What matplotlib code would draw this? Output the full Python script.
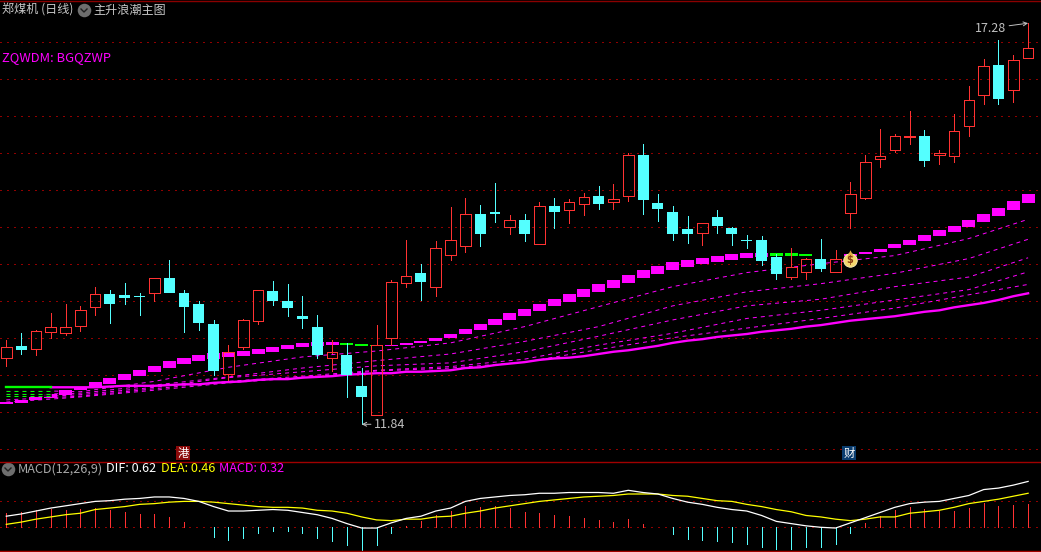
import matplotlib
matplotlib.use("Agg")
import matplotlib.pyplot as plt
import numpy as np

plt.rcParams['font.family'] = ['Noto Sans CJK SC', 'DejaVu Sans']

W, H = 1041, 552
BG = '#000000'
RED = '#ff3232'
CYAN = '#54ffff'
MAG = '#ff00ff'
GRN = '#00ff00'
GRID = '#900000'

high = [12.97,13.07,13.10,13.33,13.46,13.43,13.69,13.64,13.74,13.60,
        13.80,14.05,13.64,13.50,13.24,12.90,13.25,13.64,13.76,13.73,
        13.56,13.31,12.97,12.93,12.59,13.17,13.78,14.32,14.00,14.31,
        14.77,14.89,14.79,15.09,14.66,14.67,14.83,14.89,14.87,14.96,
        15.05,15.08,15.50,15.62,14.94,14.78,14.64,14.55,14.73,14.50,
        14.39,14.37,14.13,14.21,14.08,14.33,14.19,15.10,15.47,15.82,
        15.75,16.06,15.81,15.54,16.02,16.40,16.77,17.02,16.82,17.25]
low = [12.62,12.78,12.77,13.00,13.04,13.09,13.31,13.20,13.46,13.31,
       13.50,13.60,13.08,13.10,12.50,12.43,12.85,13.19,13.44,13.29,
       13.13,12.73,12.55,12.20,11.83,11.96,12.90,13.69,13.51,13.56,
       14.05,14.16,14.24,14.56,14.40,14.31,14.26,14.48,14.55,14.66,
       14.74,14.74,14.85,14.67,14.58,14.32,14.28,14.25,14.41,14.25,
       14.21,13.98,13.79,13.79,13.79,13.90,13.89,14.48,14.87,15.31,
       15.51,15.62,15.32,15.35,15.37,15.73,16.16,16.16,16.19,16.78]
open_ = [12.73,12.89,12.85,13.08,13.07,13.16,13.41,13.59,13.58,13.56,
         13.61,13.81,13.60,13.46,13.19,12.51,12.88,13.23,13.63,13.50,
         13.29,13.14,12.72,12.77,12.35,11.96,12.99,13.74,13.87,13.69,
         14.12,14.24,14.67,14.70,14.50,14.59,14.26,14.78,14.72,14.81,
         14.91,14.83,14.92,15.47,14.82,14.70,14.47,14.41,14.63,14.48,
         14.32,14.32,14.09,13.82,13.89,14.06,13.89,14.69,14.89,15.42,
         15.53,15.71,15.73,15.47,15.46,15.86,16.28,16.69,16.35,16.78]
close = [12.88,12.83,13.09,13.15,13.15,13.37,13.59,13.46,13.54,13.55,
         13.80,13.60,13.41,13.20,12.55,12.81,13.24,13.64,13.50,13.40,
         13.25,12.77,12.80,12.50,12.20,12.90,13.75,13.84,13.75,14.21,
         14.32,14.67,14.40,14.67,14.59,14.40,14.78,14.70,14.83,14.90,
         14.81,14.88,15.47,14.86,14.74,14.40,14.40,14.55,14.51,14.40,
         14.31,14.04,13.86,13.96,14.06,13.93,14.06,14.94,15.38,15.45,
         15.72,15.72,15.39,15.50,15.79,16.21,16.67,16.23,16.75,16.91]

band_upper = [12.13,12.16,12.20,12.24,12.29,12.33,12.40,12.46,12.51,12.56,
              12.62,12.68,12.73,12.77,12.79,12.81,12.82,12.85,12.87,12.90,
              12.93,12.94,12.94,12.93,12.91,12.90,12.90,12.93,12.96,13.00,
              13.05,13.12,13.18,13.25,13.33,13.39,13.46,13.52,13.59,13.66,
              13.73,13.78,13.85,13.91,13.97,14.02,14.05,14.08,14.10,14.13,
              14.14,14.14,14.14,14.14,14.13,14.11,14.11,14.13,14.16,14.20,
              14.27,14.32,14.39,14.45,14.51,14.59,14.67,14.75,14.85,14.94]
band_lower = [12.10,12.12,12.16,12.19,12.23,12.29,12.33,12.37,12.43,12.48,
              12.54,12.59,12.64,12.68,12.71,12.74,12.75,12.78,12.81,12.85,
              12.87,12.89,12.90,12.90,12.89,12.89,12.89,12.90,12.93,12.96,
              13.00,13.05,13.10,13.17,13.24,13.29,13.36,13.43,13.48,13.55,
              13.62,13.67,13.74,13.81,13.86,13.91,13.95,13.99,14.02,14.05,
              14.08,14.09,14.10,14.10,14.10,14.10,14.10,14.10,14.13,14.16,
              14.21,14.25,14.31,14.37,14.43,14.49,14.56,14.64,14.72,14.82]
band_falling = [23, 24, 25, 52, 53, 54, 55, 56]

long_ma = [12.33,12.33,12.33,12.33,12.33,12.33,12.33,12.34,12.35,12.35,
           12.35,12.36,12.37,12.37,12.39,12.40,12.41,12.43,12.44,12.44,
           12.46,12.47,12.48,12.50,12.51,12.52,12.52,12.54,12.54,12.55,
           12.56,12.59,12.60,12.63,12.65,12.67,12.70,12.72,12.73,12.75,
           12.78,12.81,12.83,12.86,12.89,12.93,12.96,12.98,13.01,13.03,
           13.05,13.08,13.10,13.12,13.15,13.17,13.20,13.23,13.25,13.27,
           13.29,13.32,13.35,13.37,13.41,13.44,13.47,13.51,13.56,13.60]

ma_idx = [0,3,5,10,15,20,25,30,35,40,45,50,55,60,65,69]
ma1 = [12.28,12.28,12.27,12.41,12.60,12.74,12.82,12.93,13.15,13.42,13.69,13.88,14.00,14.11,14.34,14.60]
ma2 = [12.24,12.24,12.25,12.36,12.47,12.59,12.69,12.78,12.95,13.15,13.43,13.62,13.73,13.87,14.07,14.33]
ma3 = [12.21,12.21,12.23,12.33,12.46,12.54,12.62,12.66,12.81,13.02,13.24,13.43,13.52,13.69,13.82,14.08]
ma4 = [12.16,12.19,12.21,12.31,12.41,12.48,12.56,12.61,12.71,12.90,13.06,13.26,13.37,13.51,13.65,13.89]
ma5 = [12.13,12.17,12.20,12.29,12.39,12.46,12.55,12.59,12.67,12.84,13.00,13.13,13.26,13.40,13.58,13.72]

dif = [.15,.18,.22,.26,.29,.32,.35,.36,.38,.39,.41,.41,.39,.35,.28,.22,.22,.23,.24,.23,
       .20,.17,.12,.05,-.01,-.01,.06,.12,.15,.22,.26,.35,.39,.41,.43,.44,.46,.46,.47,.47,
       .47,.46,.50,.47,.45,.39,.34,.31,.27,.24,.22,.16,.08,.05,.02,.00,-.01,.06,.13,.20,
       .27,.32,.34,.35,.39,.43,.51,.53,.57,.62]
dea = [.04,.07,.11,.14,.17,.19,.24,.26,.28,.31,.32,.34,.35,.35,.34,.32,.30,.28,.27,.27,
       .26,.23,.22,.19,.14,.10,.09,.11,.11,.14,.15,.19,.22,.26,.29,.32,.35,.37,.39,.41,
       .42,.43,.45,.45,.45,.43,.42,.39,.36,.35,.31,.28,.24,.21,.16,.14,.11,.09,.11,.14,
       .14,.19,.21,.23,.27,.32,.35,.38,.42,.46]
macd = [.19,.21,.23,.25,.23,.25,.26,.23,.21,.18,.18,.14,.07,0,-.13,-.17,-.14,-.08,-.05,-.05,
        -.08,-.14,-.18,-.24,-.31,-.24,-.08,.02,.09,.17,.22,.29,.27,.29,.26,.21,.19,.17,.15,.13,
        .10,.07,.11,.05,0,-.09,-.16,-.17,-.18,-.20,-.23,-.27,-.29,-.29,-.27,-.27,-.23,-.08,.06,.15,
        .23,.27,.25,.22,.22,.26,.33,.29,.30,.32]

price_grid = [11.5,12,12.5,13,13.5,14,14.5,15,15.5,16,16.5,17]
macd_grid = [0, .35]
low_label, high_label = 11.84, 17.28

n = len(close)
idx = np.arange(n)
fig = plt.figure(figsize=(W/100, H/100), dpi=100, facecolor=BG)

def frame(top, bottom):
    return [0, 1-bottom/H, 1, (bottom-top)/H]

ax = fig.add_axes(frame(0, 461), facecolor=BG)
ax2 = fig.add_axes(frame(461, 552), facecolor=BG)
for a in (ax, ax2):
    a.set_xlim(-0.425, 69.87)
    a.set_xticks([]); a.set_yticks([])
    for s in a.spines.values():
        s.set_visible(False)
ax.set_ylim(12-49.3/74, 12+411.7/74)
ax2.set_ylim(-24.7/74, 66.3/74)

PX = 0.72
for g in price_grid:
    ax.axhline(g, color=GRID, lw=PX, ls=(0, (1.4, 5.6)), zorder=1, antialiased=False)
for g in macd_grid:
    ax2.axhline(g, color=GRID, lw=PX, ls=(0, (1.4, 5.6)), zorder=1, antialiased=False)

# band of blocks
for i in idx:
    c = GRN if i in band_falling else MAG
    ax.bar(i, band_upper[i]-band_lower[i], bottom=band_lower[i], width=0.88, color=c,
           linewidth=0, zorder=3, antialiased=False)

# dashed averages
for k, s in enumerate((ma1, ma2, ma3, ma4, ma5)):
    ax.plot(ma_idx, s, color=MAG, lw=PX, ls=(0, (4, 4)), zorder=3)
    if k < 3:
        ax.plot(ma_idx[:2], s[:2], color=BG, lw=1.2, zorder=3)
        ax.plot(ma_idx[:2], s[:2], color=GRN, lw=PX, ls=(0, (4, 4)), zorder=3)

# long average
ax.plot(idx[3:], long_ma[3:], color=MAG, lw=1.7, zorder=3)
ax.plot(idx[:4], long_ma[:4], color=GRN, lw=1.7, zorder=3)

# candles
for i in idx:
    o, c = open_[i], close[i]
    up = c >= o
    top, bot = max(o, c), min(o, c)
    col = RED if up else CYAN
    ax.vlines(i, top, high[i], color=col, lw=PX, zorder=4, antialiased=False)
    ax.vlines(i, low[i], bot, color=col, lw=PX, zorder=4, antialiased=False)
    if up:
        ax.bar(i, top-bot, bottom=bot, width=0.72, facecolor='none', edgecolor=col,
               linewidth=PX, zorder=5, antialiased=False)
    else:
        ax.bar(i, max(top-bot, 0.012), bottom=bot, width=0.74, color=col, linewidth=0,
               zorder=5, antialiased=False)

LBL = '#c0c0c0'
ax.annotate(f'{high_label:.2f}', xy=(69, high[69]), xytext=(-53, -5), textcoords='offset pixels',
            color=LBL, fontsize=9, va='center', ha='left', zorder=7,
            arrowprops=dict(arrowstyle='->', color=LBL, lw=0.7, shrinkA=0, shrinkB=0, mutation_scale=7))
ax.annotate(f'{low_label:.2f}', xy=(24, low[24]), xytext=(12, 0), textcoords='offset pixels',
            color=LBL, fontsize=9, va='center', ha='left', zorder=7,
            arrowprops=dict(arrowstyle='->', color=LBL, lw=0.7, shrinkA=0, shrinkB=0, mutation_scale=7))

# MACD panel
for i in idx:
    ax2.vlines(i, 0, macd[i], color=RED if macd[i] > 0 else CYAN, lw=PX, zorder=2, antialiased=False)
ax2.plot(idx, dea, color='#ffff00', lw=0.9, zorder=3)
ax2.plot(idx, dif, color='#ffffff', lw=0.9, zorder=4)

# furniture in a pixel-space overlay
ov = fig.add_axes([0, 0, 1, 1], facecolor='none', zorder=10)
ov.set_xlim(0, W); ov.set_ylim(H, 0); ov.axis('off')
ov.plot([0, W], [0.5, 0.5], color='#8a0000', lw=1)
ov.plot([0, W], [461.5, 461.5], color='#a00000', lw=1)
ov.plot([0, W], [551, 551], color='#a00000', lw=1)

def txt(x, y, s, c, size=8.7):
    ov.text(x, y, s, color=c, fontsize=size, ha='left', va='center')

def chevron(cx, cy):
    ov.scatter([cx], [cy], s=95, color='#6e6e6e', linewidths=0)
    ov.plot([cx-3, cx, cx+3], [cy-1, cy+2, cy-1], color='#202020', lw=1)

txt(2, 10, '郑煤机 (日线)', '#c8c8c8')
chevron(84, 10)
txt(93, 10, '主升浪潮主图', '#c8c8c8')
txt(2, 58, 'ZQWDM: BGQZWP', MAG, 9.3)
chevron(8, 469)
txt(18, 469, 'MACD(12,26,9)', '#a8a8a8', 9.1)
txt(106, 469, 'DIF: 0.62', '#ffffff', 9.1)
txt(161, 469, 'DEA: 0.46', '#ffff00', 9.1)
txt(219, 469, 'MACD: 0.32', MAG, 9.1)

ov.text(183, 453, '港', color='white', fontsize=8.2, ha='center', va='center',
        bbox=dict(boxstyle='square,pad=0.12', fc='#8b0a0a', ec='none'))
ov.text(849, 453, '财', color='white', fontsize=8.2, ha='center', va='center',
        bbox=dict(boxstyle='square,pad=0.12', fc='#0a3c6e', ec='none'))

# money bag marker
ov.scatter([850], [260], s=95, color='#f5d76e', edgecolors='#fff4c0', linewidths=0.6, zorder=5)
ov.scatter([850], [252.5], s=22, marker='^', color='#e0b040', linewidths=0, zorder=5)
ov.text(850, 260, '$', color='#8a3a10', fontsize=7, ha='center', va='center',
        family='DejaVu Sans', fontweight='bold', zorder=6)

fig.savefig('out.png', dpi=100, facecolor=BG)
